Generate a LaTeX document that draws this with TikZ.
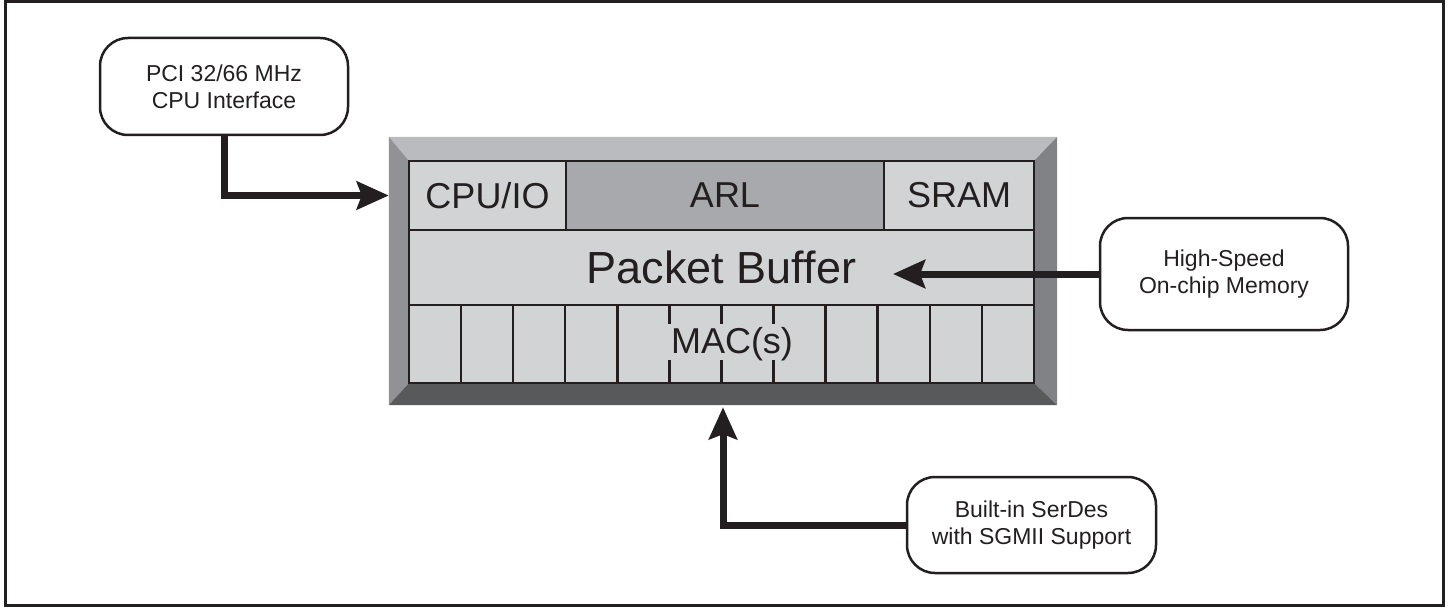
\documentclass[tikz,border=0pt]{standalone}
\usepackage{fontspec}
\setmainfont{Liberation Sans}
\usetikzlibrary{arrows.meta}
\definecolor{ink}{HTML}{231F20}
\definecolor{cellgray}{HTML}{D1D3D4}
\definecolor{arlgray}{HTML}{A7A9AC}
\definecolor{bevtop}{HTML}{B9BBBE}
\definecolor{bevleft}{HTML}{909295}
\definecolor{bevright}{HTML}{808285}
\definecolor{bevbot}{HTML}{58595B}
\tikzset{
    note/.style = { draw=ink, line width=2.5pt, rounded corners=28pt,
	align=center, minimum width=248pt, text=ink,
	font=\fontsize{23}{27}\selectfont },
    cell/.style = { draw=ink, line width=2.5pt, fill=cellgray, inner sep=0pt,
	text=ink, font=\fontsize{36}{40}\selectfont },
    bus/.style  = { draw=ink, line width=7pt,
	-{Stealth[length=32pt,width=28pt,inset=5pt]} },
}
\begin{document}
\begin{tikzpicture}[x=1pt,y=-1pt]
\useasboundingbox (0,0) rectangle (1449,607);
\draw[ink, line width=3pt] (5,2) rectangle (1443,605);
% chip with bevelled rim
\node[minimum width=668pt, minimum height=268pt, inner sep=0pt] (chip) at (723,271) {};
\node[minimum width=625pt, minimum height=222pt, inner sep=0pt] (core) at (721.5,272) {};
\fill[bevtop] (chip.north west) -- (chip.north east) -- (core.north east) -- (core.north west) -- cycle;
\fill[bevleft] (chip.north west) -- (core.north west) -- (core.south west) -- (chip.south west) -- cycle;
\fill[bevright] (chip.north east) -- (core.north east) -- (core.south east) -- (chip.south east) -- cycle;
\fill[bevbot] (chip.south west) -- (core.south west) -- (core.south east) -- (chip.south east) -- cycle;
\node[cell, minimum width=157pt, minimum height=69pt] (cpu) at (487.5,195.5) {CPU/IO};
\node[cell, fill=arlgray, minimum width=318pt, minimum height=69pt] (arl) at (725,195.5) {ARL};
\node[cell, minimum width=150pt, minimum height=69pt] (sram) at (959,195.5) {SRAM};
\node[cell, font=\fontsize{45}{50}\selectfont, minimum width=625pt, minimum height=75pt] (buffer) at (721.5,267.5) {Packet Buffer};
\node[cell, minimum width=625pt, minimum height=78pt] (macs) at (721.5,344) {};
\foreach \k in {1,2,3,4,8,9,10,11}
	\draw[ink, line width=2.5pt] (409+52.08*\k,305) -- (409+52.08*\k,383);
\foreach \k in {5,6,7} {
	\draw[ink, line width=2.5pt] (409+52.08*\k,305) -- (409+52.08*\k,324);
	\draw[ink, line width=2.5pt] (409+52.08*\k,360) -- (409+52.08*\k,383);
}
\node[text=ink, font=\fontsize{36}{40}\selectfont] (mactext) at (732,344) {MAC(s)};
% interfaces
\node[note, minimum height=97pt] (pci) at (224,86.5) {PCI 32/66 MHz\\CPU Interface};
\node[note, minimum height=112pt] (mem) at (1224,274) {High-Speed\\On-chip Memory};
\node[note, minimum height=96pt, minimum width=249pt] (serdes) at (1031.5,525) {Built-in SerDes\\with SGMII Support};
\coordinate (buftip) at (893,274);
\draw[bus] (pci.south) |- (cpu.west -| chip.west);
\draw[bus] (mem.west) -- (buftip);
\draw[bus, shorten >=2pt] (serdes.west) -| (chip.south);
\end{tikzpicture}
\end{document}
